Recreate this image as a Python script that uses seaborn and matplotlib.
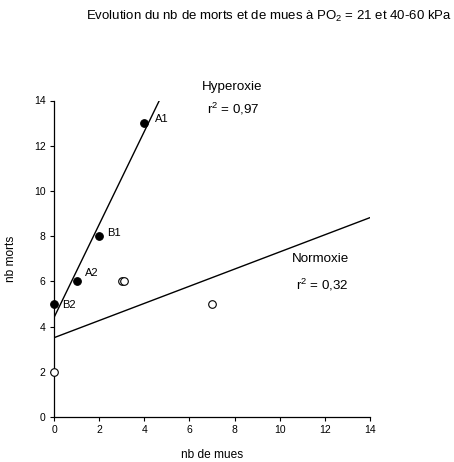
import numpy as np
import pandas as pd
import matplotlib
matplotlib.use("Agg")
import matplotlib.pyplot as plt
import seaborn as sns

# Hyperoxia group (filled markers)
hyper_mues = [0, 1, 2, 4]
hyper_morts = [5, 6, 8, 13]
hyper_labels = ["B2", "A2", "B1", "A1"]
hyper_r2 = "0,97"

# Normoxia group (open markers)
normo_mues = [0, 3, 3.1, 7]
normo_morts = [2, 6, 6, 5]
normo_r2 = "0,32"

ticks = [0, 2, 4, 6, 8, 10, 12, 14]

sns.set_theme(style="ticks")
plt.rcParams["font.family"] = ["Liberation Sans", "DejaVu Sans"]
plt.rcParams.update({"text.color": "black", "axes.labelcolor": "black",
                     "xtick.color": "black", "ytick.color": "black"})

hyper = pd.DataFrame({"mues": hyper_mues, "morts": hyper_morts})
normo = pd.DataFrame({"mues": normo_mues, "morts": normo_morts})

fig = plt.figure(figsize=(4.54, 4.62), dpi=100)
ax = fig.add_axes([54 / 454, 45 / 462, 316 / 454, 316.5 / 462])
ax.set_xlim(0, 14)
ax.set_ylim(0, 14)

# least-squares fits, extended across the whole x range
line_kws = dict(color="black", lw=1.0)
sns.regplot(data=hyper, x="mues", y="morts", ci=None, truncate=False,
            scatter=False, line_kws=line_kws, ax=ax)
sns.regplot(data=normo, x="mues", y="morts", ci=None, truncate=False,
            scatter=False, line_kws=line_kws, ax=ax)

sns.scatterplot(data=hyper, x="mues", y="morts", color="black",
                edgecolor="black", s=30, linewidth=0.8, ax=ax,
                clip_on=False, zorder=5)
sns.scatterplot(data=normo, x="mues", y="morts", color="white",
                edgecolor="black", s=30, linewidth=0.8, ax=ax,
                clip_on=False, zorder=5)

offsets = {"A1": (8, 3), "B1": (6, 2), "A2": (6, 6), "B2": (6, -1)}
for x, y, lab in zip(hyper_mues, hyper_morts, hyper_labels):
    ax.annotate(lab, (x, y), xytext=offsets[lab], textcoords="offset points",
                va="center", ha="left", fontsize=8)

ax.text(7.9, 14.6, "Hyperoxie", ha="center", va="center", fontsize=9.6)
ax.text(7.95, 13.65, "$\\mathregular{r^2}$ = " + hyper_r2,
        ha="center", va="center", fontsize=9.6)
ax.text(11.8, 7.0, "Normoxie", ha="center", va="center", fontsize=9.6)
ax.text(11.9, 5.85, "$\\mathregular{r^2}$ = " + normo_r2,
        ha="center", va="center", fontsize=9.6)

ax.set_xticks(ticks)
ax.set_yticks(ticks)
ax.tick_params(axis="both", labelsize=7.5, length=3, width=0.8, color="black",
               labelcolor="black", pad=3)
for s in ("top", "right"):
    ax.spines[s].set_visible(False)
for s in ("left", "bottom"):
    ax.spines[s].set_color("black")
    ax.spines[s].set_linewidth(0.9)

ax.set_xlabel("nb de mues", fontsize=8.6, labelpad=10)
ax.set_ylabel("nb morts", fontsize=8.6, labelpad=12)

fig.text(269 / 454, 1 - 16 / 462,
         "Evolution du nb de morts et de mues à P$\\mathregular{O_2}$ = 21 et 40-60 kPa",
         ha="center", va="center", fontsize=9.5)

fig.savefig("out.png", dpi=100, facecolor="white")
